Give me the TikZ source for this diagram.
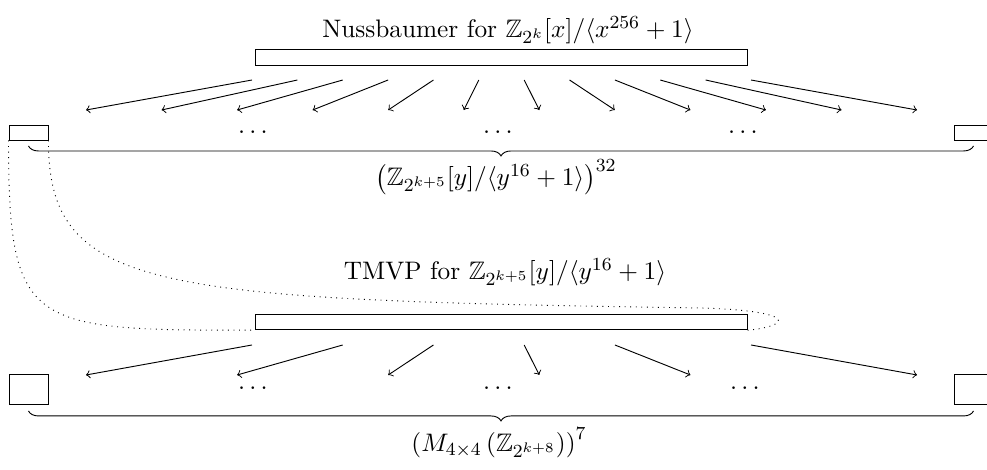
\documentclass[tikz,border=0pt]{standalone}
\usepackage{amssymb}
\usetikzlibrary{decorations.pathreplacing}

\begin{document}
\begin{tikzpicture}[font=\fontsize{10.95}{13.6}\selectfont,
    bar/.style={rectangle, draw, inner sep=0pt, minimum width=7.478cm, minimum height=0.235cm},
    slot/.style={rectangle, draw, inner sep=0pt, minimum width=0.593cm},
    under/.style={decorate, decoration={brace, mirror, amplitude=4.3pt}}
  ]
    \useasboundingbox (0,0) rectangle (15,-7.128);

    % --- Nussbaumer level ---
    \node (nusstitle) at (7.72,-0.456) {Nussbaumer for $\mathbb{Z}_{2^k}[x]/\langle x^{256}+1\rangle$};
    \node[bar] (nuss) at (7.614,-0.874) {};
    \foreach \i in {0,...,11}{
        \coordinate (ns\i) at (3.830+0.6894*\i,-1.216);
        \coordinate (ne\i) at (1.307+1.1482*\i,-1.672);
        \draw[->] (ns\i) -- (ne\i);
    }
    \node[slot, minimum height=0.228cm] (ltop) at (0.433,-2.014) {};
    \node[slot, minimum height=0.228cm] (rtop) at (14.795,-2.014) {};
    \node (dotsA) at (3.845,-2.006) {$\dots$};
    \node (dotsB) at (7.568,-2.006) {$\dots$};
    \node (dotsC) at (11.292,-2.006) {$\dots$};
    \draw[under] (0.433,-2.219) -- (14.795,-2.219);
    \node (ringpow) at (7.538,-2.69) {$\left(\mathbb{Z}_{2^{k+5}}[y]/\langle y^{16}+1\rangle\right)^{32}$};

    % --- TMVP level ---
    \node (tmvptitle) at (7.675,-4.134) {TMVP for $\mathbb{Z}_{2^{k+5}}[y]/\langle y^{16}+1\rangle$};
    \node[bar] (tmvp) at (7.614,-4.894) {};
    \foreach \i in {0,2,4,6,8,11}{
        \coordinate (ts\i) at (3.830+0.6894*\i,-5.243);
        \coordinate (te\i) at (1.307+1.1482*\i,-5.699);
        \draw[->] (ts\i) -- (te\i);
    }
    \node[slot, minimum height=0.471cm] (lbot) at (0.433,-5.919) {};
    \node[slot, minimum height=0.471cm] (rbot) at (14.795,-5.919) {};
    \node (dotsD) at (3.845,-5.897) {$\dots$};
    \node (dotsE) at (7.568,-5.897) {$\dots$};
    \node (dotsF) at (11.32,-5.897) {$\dots$};
    \draw[under] (0.433,-6.246) -- (14.795,-6.246);
    \node (matpow) at (7.584,-6.733) {$\left(M_{4\times 4}\left(\mathbb{Z}_{2^{k+8}}\right)\right)^7$};

    % --- Dotted zoom lines ---
    \coordinate (bend) at (10.64,-4.68);
    \draw[dotted] (ltop.south west) .. controls +(0,-2.87) and +(-3.42,0) .. (tmvp.south west);
    \draw[dotted] (ltop.south east) .. controls +(0,-2.28) and +(-8.36,0.122) .. (bend)
        .. controls +(1.52,-0.046) and +(0.653,0.061) .. (tmvp.south east);
\end{tikzpicture}
\end{document}
